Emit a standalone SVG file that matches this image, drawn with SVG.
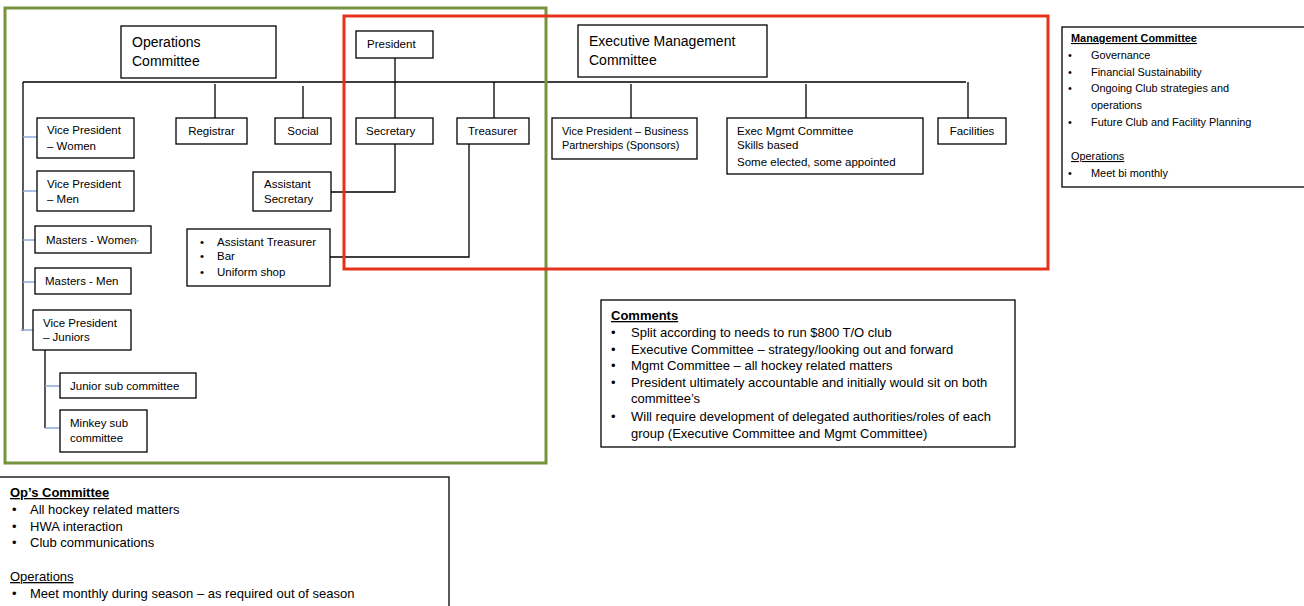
<svg xmlns="http://www.w3.org/2000/svg" width="1304" height="606" viewBox="0 0 1304 606">
<style>
.box{fill:#fff;stroke:#000;stroke-width:1.3}
.t{font-family:"Liberation Sans",Arial,sans-serif;font-size:11.5px;fill:#000}
.big{font-size:14px}
.m{font-size:10.9px}
.c{font-size:13px}
.b{font-weight:bold;text-decoration:underline}
.u{text-decoration:underline}
.ln{stroke:#000;stroke-width:1.3;fill:none}
.bl{stroke:#8EA9DB;stroke-width:1.3;fill:none}
</style>
<rect width="1304" height="606" fill="#fff"/>
<g id="connectors">
<path class="ln" d="M23 82H966M23 82V331M215 84V118M303 86V118M395 58V118M494 82V118M631 84V118M806 84V118M968 82V118M45 350V428M331 192H395V144M330 257H469V144"/>
<path class="bl" d="M23 137H37M23 191H37M23 240H35M23 282H35M21 330H33M45 386H60M45 428H60"/>
</g>
<g id="ops-committee"><rect class="box" x="121" y="26" width="155" height="52"/><text class="t big" x="132" y="47">Operations</text><text class="t big" x="132" y="66">Committee</text></g>
<g id="president"><rect class="box" x="356" y="31" width="77" height="27"/><text class="t" x="367" y="48">President</text></g>
<g id="exec-committee"><rect class="box" x="578" y="25" width="189" height="52"/><text class="t big" x="589" y="46">Executive Management</text><text class="t big" x="589" y="65">Committee</text></g>
<g id="registrar"><rect class="box" x="176" y="118" width="71" height="26"/><text class="t" x="211.5" y="135" text-anchor="middle">Registrar</text></g>
<g id="social"><rect class="box" x="275" y="118" width="56" height="26"/><text class="t" x="303" y="135" text-anchor="middle">Social</text></g>
<g id="secretary"><rect class="box" x="356" y="118" width="77" height="26"/><text class="t" x="366" y="135">Secretary</text></g>
<g id="treasurer"><rect class="box" x="457" y="118" width="72" height="26"/><text class="t" x="468" y="135">Treasurer</text></g>
<g id="vp-business"><rect class="box" x="552" y="118" width="145" height="41"/><text class="t" x="562" y="135" style="font-size:10.9px">Vice President – Business</text><text class="t" x="562" y="149" style="font-size:10.9px">Partnerships (Sponsors)</text></g>
<g id="exec-mgmt"><rect class="box" x="727" y="118" width="196" height="56"/><text class="t" x="737" y="135">Exec Mgmt Committee</text><text class="t" x="737" y="149">Skills based</text><text class="t" x="737" y="166">Some elected, some appointed</text></g>
<g id="facilities"><rect class="box" x="938" y="118" width="68" height="26"/><text class="t" x="972" y="135" text-anchor="middle">Facilities</text></g>
<g id="vp-women"><rect class="box" x="37" y="118" width="97" height="40"/><text class="t" x="47" y="134">Vice President</text><text class="t" x="47" y="150">– Women</text></g>
<g id="vp-men"><rect class="box" x="37" y="171" width="97" height="40"/><text class="t" x="47" y="188">Vice President</text><text class="t" x="47" y="203">– Men</text></g>
<g id="masters-women"><rect class="box" x="35" y="226" width="116" height="27"/><text class="t" x="46" y="244">Masters - Women</text><path class="bl" d="M126 241H139"/></g>
<g id="masters-men"><rect class="box" x="35" y="268" width="96" height="26"/><text class="t" x="45" y="285">Masters - Men</text></g>
<g id="vp-juniors"><rect class="box" x="33" y="310" width="98" height="40"/><text class="t" x="43" y="327">Vice President</text><text class="t" x="43" y="341">– Juniors</text></g>
<g id="junior-sub"><rect class="box" x="60" y="373" width="136" height="25"/><text class="t" x="70" y="390">Junior sub committee</text></g>
<g id="minkey-sub"><rect class="box" x="60" y="410" width="87" height="42"/><text class="t" x="70" y="427">Minkey sub</text><text class="t" x="70" y="442">committee</text></g>
<g id="asst-secretary"><rect class="box" x="253" y="172" width="78" height="39"/><text class="t" x="264" y="188">Assistant</text><text class="t" x="264" y="203">Secretary</text></g>
<g id="asst-treasurer"><rect class="box" x="187" y="229" width="143" height="57"/><text class="t" x="200" y="246">•</text><text class="t" x="217" y="246">Assistant Treasurer</text><text class="t" x="200" y="260">•</text><text class="t" x="217" y="260">Bar</text><text class="t" x="200" y="276">•</text><text class="t" x="217" y="276">Uniform shop</text></g>
<g id="groups"><rect x="5" y="8" width="541" height="455" fill="none" stroke="#77933C" stroke-width="3"/><rect x="344" y="16" width="704" height="253" fill="none" stroke="#E5321B" stroke-width="3"/></g>
<g id="mgmt-notes"><rect class="box" x="1062" y="27" width="245" height="160"/>
<text class="t m b" x="1071" y="42">Management Committee</text>
<text class="t m" x="1068" y="59">•</text><text class="t m" x="1091" y="59">Governance</text>
<text class="t m" x="1068" y="76">•</text><text class="t m" x="1091" y="76">Financial Sustainability</text>
<text class="t m" x="1068" y="92">•</text><text class="t m" x="1091" y="92">Ongoing Club strategies and</text>
<text class="t m" x="1091" y="109">operations</text>
<text class="t m" x="1068" y="126">•</text><text class="t m" x="1091" y="126">Future Club and Facility Planning</text>
<text class="t m u" x="1071" y="160">Operations</text>
<text class="t m" x="1068" y="177">•</text><text class="t m" x="1091" y="177">Meet bi monthly</text></g>
<g id="comments"><rect class="box" x="601" y="300" width="414" height="147"/>
<text class="t c b" x="611" y="320">Comments</text>
<text class="t c" x="611" y="337">•</text><text class="t c" x="631" y="337">Split according to needs to run $800 T/O club</text>
<text class="t c" x="611" y="354">•</text><text class="t c" x="631" y="354">Executive Committee – strategy/looking out and forward</text>
<text class="t c" x="611" y="370">•</text><text class="t c" x="631" y="370">Mgmt Committee – all hockey related matters</text>
<text class="t c" x="611" y="387">•</text><text class="t c" x="631" y="387">President ultimately accountable and initially would sit on both</text>
<text class="t c" x="631" y="403">committee’s</text>
<text class="t c" x="611" y="421">•</text><text class="t c" x="631" y="421">Will require development of delegated authorities/roles of each</text>
<text class="t c" x="631" y="438">group (Executive Committee and Mgmt Committee)</text></g>
<g id="ops-notes"><rect class="box" x="-2" y="477" width="451" height="140"/>
<text class="t c b" x="10" y="497">Op’s Committee</text>
<text class="t c" x="12" y="514">•</text><text class="t c" x="30" y="514">All hockey related matters</text>
<text class="t c" x="12" y="531">•</text><text class="t c" x="30" y="531">HWA interaction</text>
<text class="t c" x="12" y="547">•</text><text class="t c" x="30" y="547">Club communications</text>
<text class="t c u" x="10" y="581">Operations</text>
<text class="t c" x="12" y="598">•</text><text class="t c" x="30" y="598">Meet monthly during season – as required out of season</text></g>
</svg>
